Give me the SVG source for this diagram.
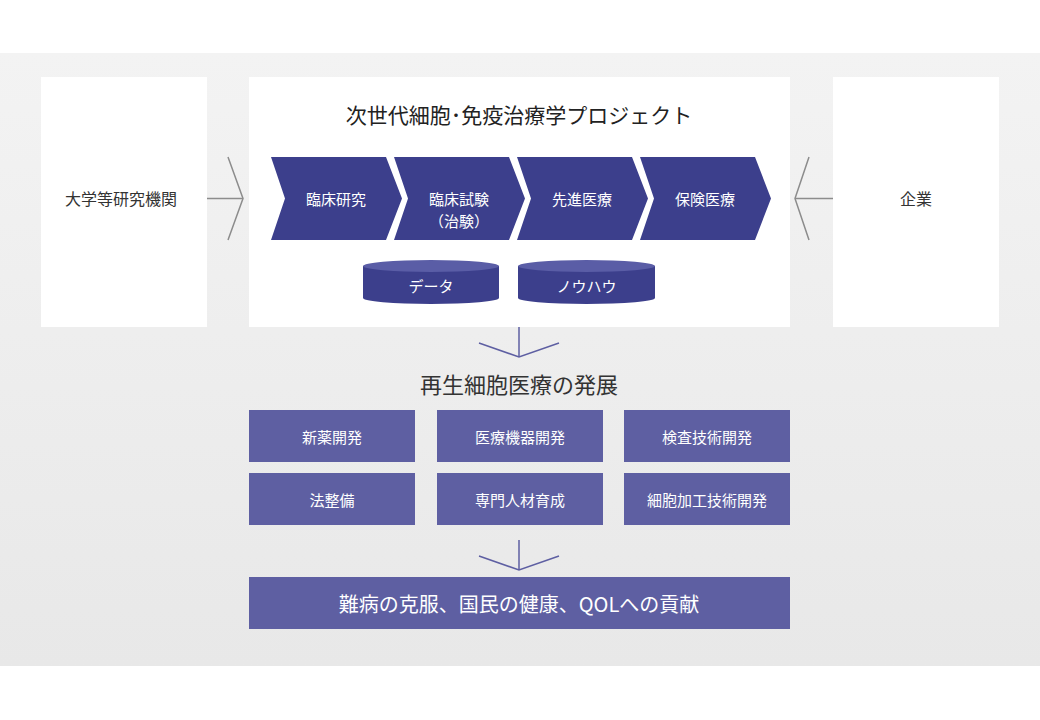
<svg xmlns="http://www.w3.org/2000/svg" width="1040" height="720" viewBox="0 0 1040 720">
<defs>
<linearGradient id="bg" x1="0" y1="0" x2="0" y2="1">
<stop offset="0" stop-color="#f3f3f3"/>
<stop offset="1" stop-color="#e8e8e8"/>
</linearGradient>
<style>
text{font-family:"Noto Sans CJK JP","Noto Sans",sans-serif;text-anchor:middle;dominant-baseline:central}
.wb{fill:#ffffff}
.dk{fill:#333333;font-size:16px}
.chev{fill:#3c3f8c}
.wt{fill:#ffffff;font-size:15px}
.box{fill:#5e5fa2}
.cylb{fill:#3c3f8c}
.cylt{fill:#5a5da6}
.gl{stroke:#8c8c8c;stroke-width:1.5;fill:none}
.pl{stroke:#5e5fa2;stroke-width:1.5;fill:none}
</style>
</defs>
<rect x="0" y="0" width="1040" height="720" fill="#ffffff"/>
<rect x="0" y="53" width="1040" height="613" fill="url(#bg)"/>

<g id="univ">
<rect class="wb" x="41" y="77" width="166" height="250"/>
<text class="dk" x="121" y="198">大学等研究機関</text>
</g>
<g id="company">
<rect class="wb" x="833" y="77" width="166" height="250"/>
<text class="dk" x="916" y="198">企業</text>
</g>
<g id="project">
<rect class="wb" x="249" y="77" width="541" height="250"/>
<text x="519" y="114" style="fill:#222222;font-size:21px">次世代細胞･免疫治療学プロジェクト</text>
</g>

<g id="chev1">
<polygon class="chev" points="271,157 386,157 402,198.5 386,240 271,240 285,198.5"/>
<text class="wt" x="336" y="198">臨床研究</text>
</g>
<g id="chev2">
<polygon class="chev" points="394,157 509,157 525,198.5 509,240 394,240 408,198.5"/>
<text class="wt" x="459" y="198">臨床試験</text>
<text class="wt" x="459" y="220">（治験）</text>
</g>
<g id="chev3">
<polygon class="chev" points="517,157 632,157 648,198.5 632,240 517,240 531,198.5"/>
<text class="wt" x="582" y="198">先進医療</text>
</g>
<g id="chev4">
<polygon class="chev" points="640,157 755,157 771,198.5 755,240 640,240 654,198.5"/>
<text class="wt" x="705" y="198">保険医療</text>
</g>

<g id="data">
<path class="cylb" d="M363,266 L363,298 A68,6 0 0 0 499,298 L499,266 Z"/>
<ellipse class="cylt" cx="431" cy="266" rx="68" ry="6"/>
<text class="wt" x="431" y="285">データ</text>
</g>
<g id="knowhow">
<path class="cylb" d="M518,266 L518,298 A68.5,6 0 0 0 655,298 L655,266 Z"/>
<ellipse class="cylt" cx="586.5" cy="266" rx="68.5" ry="6"/>
<text class="wt" x="586.5" y="285">ノウハウ</text>
</g>

<g id="heading2">
<text x="519" y="383" style="fill:#333333;font-size:22px">再生細胞医療の発展</text>
</g>

<g id="b1"><rect class="box" x="249" y="410" width="166" height="52"/><text class="wt" x="332" y="436">新薬開発</text></g>
<g id="b2"><rect class="box" x="437" y="410" width="166" height="52"/><text class="wt" x="520" y="436">医療機器開発</text></g>
<g id="b3"><rect class="box" x="624" y="410" width="166" height="52"/><text class="wt" x="707" y="436">検査技術開発</text></g>
<g id="b4"><rect class="box" x="249" y="473" width="166" height="52"/><text class="wt" x="332" y="499">法整備</text></g>
<g id="b5"><rect class="box" x="437" y="473" width="166" height="52"/><text class="wt" x="520" y="499">専門人材育成</text></g>
<g id="b6"><rect class="box" x="624" y="473" width="166" height="52"/><text class="wt" x="707" y="499">細胞加工技術開発</text></g>

<g id="goal">
<rect class="box" x="249" y="577" width="541" height="52"/>
<text x="519" y="603" style="fill:#ffffff;font-size:20px">難病の克服、国民の健康、QOLへの貢献</text>
</g>

<g id="connectors">
<line class="gl" x1="207" y1="198.5" x2="243" y2="198.5"/>
<polyline class="gl" points="228,157 243,198.5 228,240"/>
<line class="gl" x1="795" y1="198.5" x2="833" y2="198.5"/>
<polyline class="gl" points="809,157 795,198.5 809,240"/>
<line class="pl" x1="519" y1="327" x2="519" y2="357"/>
<polyline class="pl" points="479,343 519,357 559,343"/>
<line class="pl" x1="519" y1="540" x2="519" y2="570"/>
<polyline class="pl" points="479,556 519,570 559,556"/>
</g>
</svg>
